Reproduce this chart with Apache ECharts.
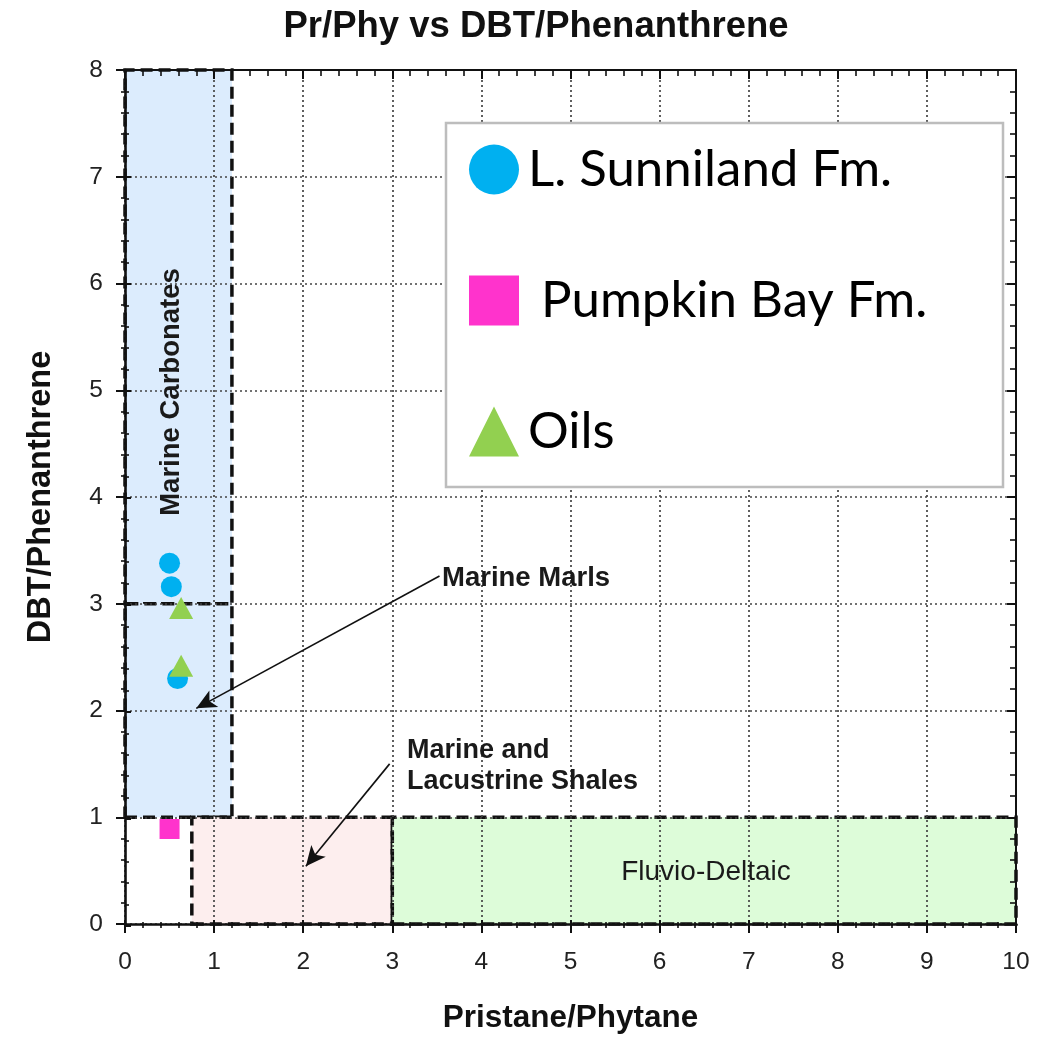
<!DOCTYPE html>
<html>
<head>
<meta charset="utf-8">
<script src="https://cdn.jsdelivr.net/npm/echarts@6/dist/echarts.min.js"></script>
<style>html,body{margin:0;padding:0;background:#fff;}#c{width:1042px;height:1039px;}</style>
</head>
<body>
<div id="c"></div>
<script>
// ---- data ----
const sunnilandX = [0.50, 0.52, 0.59];
const sunnilandY = [3.38, 3.16, 2.30];
const pumpkinX = [0.50];
const pumpkinY = [0.89];
const oilsX = [0.63, 0.63];
const oilsY = [2.96, 2.42];
const xTicks = [0, 1, 2, 3, 4, 5, 6, 7, 8, 9, 10];
const yTicks = [0, 1, 2, 3, 4, 5, 6, 7, 8];
const seriesNames = ['L. Sunniland Fm.', ' Pumpkin Bay Fm.', 'Oils'];
// zone boundaries (x from, y from, x to, y to)
const carbonatesZone = [0, 3, 1.2, 8];
const marlsZone = [0, 1, 1.2, 3];
const shalesZone = [0.75, 0, 3, 1];
const fluvioZone = [3, 0, 10, 1];

const zip = (xs, ys) => xs.map((x, i) => [x, ys[i]]);

const chart = echarts.init(document.getElementById('c'));
const G = {left: 125, right: 26, top: 70, bottom: 113};
const dotted = {color: '#444', width: 1.7, type: [2, 3]};
const zoneBorder = {borderColor: '#111', borderWidth: 3.5, borderType: [12, 6]};
const zone = (z, fill) => [{coord: [z[0], z[1]], itemStyle: Object.assign({color: fill}, zoneBorder)}, {coord: [z[2], z[3]]}];

const option = {
  animation: false,
  backgroundColor: '#fff',
  title: {
    text: 'Pr/Phy vs DBT/Phenanthrene',
    left: 531, top: 3, textAlign: 'center',
    textStyle: {fontFamily: 'Liberation Sans', fontWeight: 'bold', fontSize: 36.5, color: '#111'}
  },
  grid: [
    Object.assign({}, G, {show: false}),
    Object.assign({}, G, {show: false})
  ],
  xAxis: [
    {gridIndex: 0, type: 'value', position: 'bottom', min: 0, max: 10, interval: 1, z: 5,
      axisLine: {show: true, onZero: false, lineStyle: {color: '#111', width: 2.6}},
      axisTick: {show: true, inside: false, length: 9, lineStyle: {color: '#111', width: 2}},
      minorTick: {show: true, splitNumber: 5, length: 4, lineStyle: {color: '#111', width: 1.6}},
      axisLabel: {show: true, fontFamily: 'Liberation Sans', fontSize: 24.5, color: '#222', margin: 26,
        formatter: v => xTicks.includes(v) ? String(v) : ''},
      splitLine: {show: true, lineStyle: dotted},
      name: 'Pristane/Phytane', nameLocation: 'middle', nameGap: 78,
      nameTextStyle: {fontFamily: 'Liberation Sans', fontWeight: 'bold', fontSize: 31.5, color: '#111'}
    },
    {gridIndex: 0, type: 'value', position: 'top', min: 0, max: 10, interval: 1, z: 5,
      axisLine: {show: true, onZero: false, lineStyle: {color: '#111', width: 2}},
      axisTick: {show: true, inside: true, length: 9, lineStyle: {color: '#111', width: 2}},
      minorTick: {show: true, splitNumber: 5, length: 6, lineStyle: {color: '#111', width: 1.6}},
      axisLabel: {show: false}, splitLine: {show: false}
    },
    {gridIndex: 1, type: 'value', position: 'bottom', min: 0, max: 10, interval: 1, z: 5,
      axisLine: {show: false},
      axisTick: {show: true, inside: true, length: 6, lineStyle: {color: '#111', width: 2}},
      minorTick: {show: true, splitNumber: 5, length: 4, lineStyle: {color: '#111', width: 1.6}},
      axisLabel: {show: false}, splitLine: {show: false}
    }
  ],
  yAxis: [
    {gridIndex: 0, type: 'value', position: 'left', min: 0, max: 8, interval: 1, z: 5,
      axisLine: {show: true, onZero: false, lineStyle: {color: '#111', width: 2.6}},
      axisTick: {show: true, inside: false, length: 9, lineStyle: {color: '#111', width: 2}},
      minorTick: {show: true, splitNumber: 5, length: 4, lineStyle: {color: '#111', width: 1.6}},
      axisLabel: {show: true, fontFamily: 'Liberation Sans', fontSize: 24.5, color: '#222', margin: 22,
        formatter: v => yTicks.includes(v) ? String(v) : ''},
      splitLine: {show: true, lineStyle: dotted},
      name: 'DBT/Phenanthrene', nameLocation: 'middle', nameGap: 67, nameRotate: 90,
      nameTextStyle: {fontFamily: 'Liberation Sans', fontWeight: 'bold', fontSize: 32.5, color: '#111'}
    },
    {gridIndex: 0, type: 'value', position: 'right', min: 0, max: 8, interval: 1, z: 5,
      axisLine: {show: true, onZero: false, lineStyle: {color: '#111', width: 2}},
      axisTick: {show: true, inside: true, length: 9, lineStyle: {color: '#111', width: 2}},
      minorTick: {show: true, splitNumber: 5, length: 6, lineStyle: {color: '#111', width: 1.6}},
      axisLabel: {show: false}, splitLine: {show: false}
    },
    {gridIndex: 1, type: 'value', position: 'left', min: 0, max: 8, interval: 1, z: 5,
      axisLine: {show: false},
      axisTick: {show: true, inside: true, length: 6, lineStyle: {color: '#111', width: 2}},
      minorTick: {show: true, splitNumber: 5, length: 4, lineStyle: {color: '#111', width: 1.6}},
      axisLabel: {show: false}, splitLine: {show: false}
    }
  ],
  legend: {
    orient: 'vertical', left: 464, top: 139, z: 30,
    itemWidth: 50, itemHeight: 50, itemGap: 80,
    data: [
      {name: seriesNames[0], icon: 'circle'},
      {name: seriesNames[1], icon: 'rect'},
      {name: seriesNames[2], icon: 'triangle'}
    ],
    textStyle: {fontFamily: 'Lato', fontSize: 51, color: '#000', padding: [0, 0, 0, 4]}
  },
  graphic: [
    {type: 'rect', z: 20, shape: {x: 446, y: 123, width: 557, height: 364},
      style: {fill: '#fff', stroke: '#bdbdbd', lineWidth: 2.5}},
    {type: 'text', z: 20, x: 171, y: 392, rotation: Math.PI / 2,
      style: {text: 'Marine Carbonates', fontFamily: 'Liberation Sans', fontWeight: 'bold', fontSize: 27.5,
        fill: '#1a1a1a', align: 'center', verticalAlign: 'middle'}},
    {type: 'text', z: 20, x: 442, y: 578,
      style: {text: 'Marine Marls', fontFamily: 'Liberation Sans', fontWeight: 'bold', fontSize: 27.5,
        fill: '#1a1a1a', align: 'left', verticalAlign: 'middle'}},
    {type: 'text', z: 20, x: 407, y: 766,
      style: {text: 'Marine and\nLacustrine Shales', fontFamily: 'Liberation Sans', fontWeight: 'bold', fontSize: 27,
        lineHeight: 31, fill: '#1a1a1a', align: 'left', verticalAlign: 'middle'}},
    {type: 'text', z: 20, x: 706, y: 872,
      style: {text: 'Fluvio-Deltaic', fontFamily: 'Liberation Sans', fontSize: 28,
        fill: '#1a1a1a', align: 'center', verticalAlign: 'middle'}}
  ],
  series: [
    {type: 'scatter', name: '_zones', xAxisIndex: 0, yAxisIndex: 0, data: [], z: 1, silent: true,
      markArea: {silent: true,
        itemStyle: zoneBorder,
        data: [
          zone(carbonatesZone, '#dcecfd'),
          zone(marlsZone, '#dcecfd'),
          zone(shalesZone, '#fdeeee'),
          zone(fluvioZone, '#ddfcd9')
        ]},
      markLine: {silent: true, symbol: ['none', 'arrow'], symbolSize: [14, 20],
        lineStyle: {color: '#111', width: 1.6, type: 'solid'}, label: {show: false},
        data: [
          [{coord: [3.53, 3.26]}, {coord: [0.80, 2.02]}],
          [{coord: [2.97, 1.50]}, {coord: [2.03, 0.54]}]
        ]}
    },
    {type: 'scatter', name: seriesNames[0], xAxisIndex: 0, yAxisIndex: 0, z: 10,
      symbol: 'circle', symbolSize: 21, itemStyle: {color: '#00b0f0', opacity: 1},
      data: zip(sunnilandX, sunnilandY)},
    {type: 'scatter', name: seriesNames[1], xAxisIndex: 0, yAxisIndex: 0, z: 10,
      symbol: 'rect', symbolSize: 20, itemStyle: {color: '#ff33cc', opacity: 1},
      data: zip(pumpkinX, pumpkinY)},
    {type: 'scatter', name: seriesNames[2], xAxisIndex: 0, yAxisIndex: 0, z: 10,
      symbol: 'triangle', symbolSize: [24, 22], itemStyle: {color: '#92d050', opacity: 1},
      data: zip(oilsX, oilsY)}
  ]
};
chart.setOption(option);
</script>
</body>
</html>
